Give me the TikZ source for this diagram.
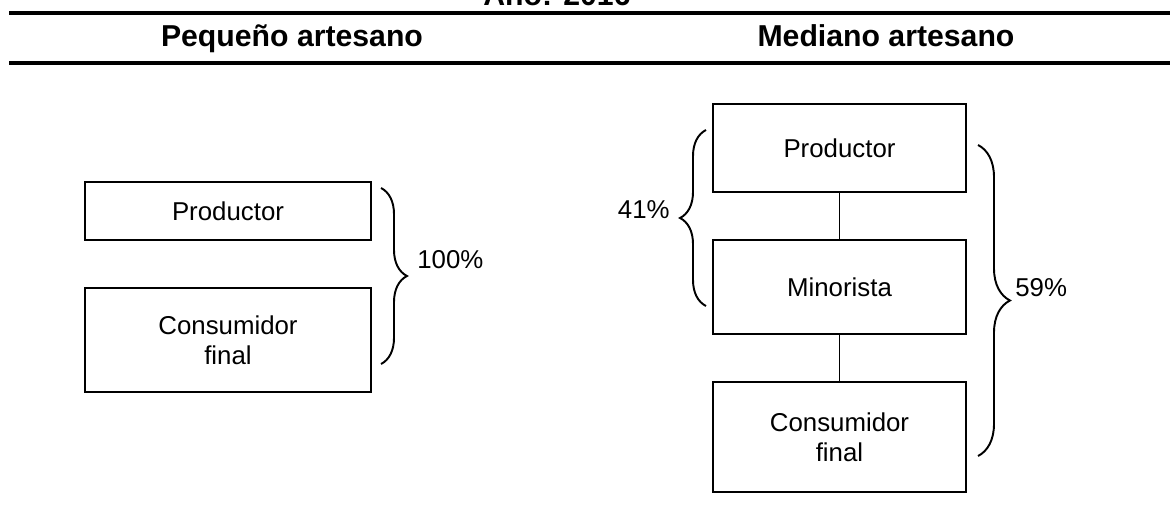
\documentclass[tikz,border=0pt]{standalone}
\usepackage{fontspec}
\setmainfont{Liberation Sans}
\usetikzlibrary{decorations.pathreplacing}

\begin{document}
\begin{tikzpicture}[x=0.02cm, y=-0.02cm,
  box/.style={draw=black, line width=1.5pt, rectangle, minimum width=5.72cm,
              inner sep=0pt, align=center, font=\fontsize{14.7}{17}\selectfont},
  rbox/.style={box, minimum width=5.06cm},
  link/.style={draw=black, line width=0.7pt},
  curly/.style={draw=black, line width=1.1pt, decorate,
                decoration={brace, amplitude=#1}},
  pct/.style={font=\fontsize{14.7}{17}\selectfont, inner sep=0pt},
  head/.style={font=\fontsize{17.2}{20}\selectfont\bfseries, inner sep=0pt, anchor=base},
  rule/.style={draw=black, line width=2.3pt},
]
\useasboundingbox (0,0) rectangle (1170,527);

% ---- Header ----
\node[head] (title) at (557,6) {Año: 2016};
\coordinate (ruleAl) at (9,13);
\coordinate (ruleAr) at (1170,13);
\coordinate (ruleBl) at (9,63);
\coordinate (ruleBr) at (1170,63);
\draw[rule] (ruleAl) -- (ruleAr);
\draw[rule] (ruleBl) -- (ruleBr);
\node[head] (hsmall) at (292,47) {Pequeño artesano};
\node[head] (hmid)   at (886,47) {Mediano artesano};

% ---- Nodes ----
\node[box, minimum height=1.16cm]  (lprod) at (228,211) {Productor};
\node[box, minimum height=2.08cm]  (lcons) at (228,340) {Consumidor\\final};
\node[rbox, minimum height=1.76cm] (rprod) at (839.5,148) {Productor};
\node[rbox, minimum height=1.88cm] (rmin)  at (839.5,287) {Minorista};
\node[rbox, minimum height=2.2cm]  (rcons) at (839.5,437) {Consumidor\\final};

% ---- Channel links ----
\foreach \a/\b in {rprod/rmin, rmin/rcons}
  \draw[link] (\a) -- (\b);

% ---- Braces and shares ----
\coordinate (bAt) at (381,188);
\coordinate (bAb) at (381,364);
\coordinate (bBt) at (706,130);
\coordinate (bBb) at (706,306);
\coordinate (bCt) at (978,145);
\coordinate (bCb) at (978,456);
\draw[curly=0.52cm] (bAt) -- (bAb);
\draw[curly=0.52cm] (bBb) -- (bBt);
\draw[curly=0.64cm] (bCt) -- (bCb);
\node[pct, anchor=west] (p100) at (417,260) {100\%};
\node[pct, anchor=east] (p41)  at (670,210) {41\%};
\node[pct, anchor=west] (p59)  at (1015,288) {59\%};
\end{tikzpicture}
\end{document}
